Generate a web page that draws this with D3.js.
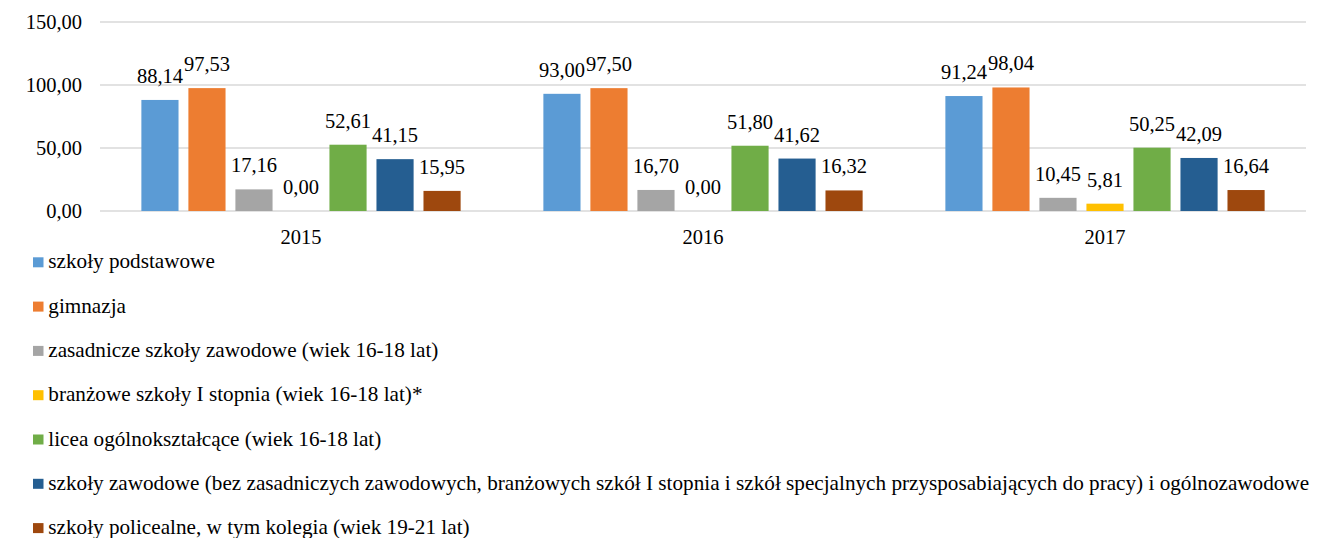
<!DOCTYPE html>
<html>
<head>
<meta charset="utf-8">
<script src="https://cdn.jsdelivr.net/npm/d3@7"></script>
<style>
  body { margin: 0; background: #fff; }
</style>
</head>
<body>
<script>
// data
const years = ["2015", "2016", "2017"]
const seriesNames = [
  "szkoły podstawowe",
  "gimnazja",
  "zasadnicze szkoły zawodowe (wiek 16-18 lat)",
  "branżowe szkoły I stopnia (wiek 16-18 lat)*",
  "licea ogólnokształcące (wiek 16-18 lat)",
  "szkoły zawodowe (bez zasadniczych zawodowych, branżowych szkół I stopnia i szkół specjalnych przysposabiających do pracy) i ogólnozawodowe",
  "szkoły policealne, w tym kolegia (wiek 19-21 lat)"
]
const seriesColors = ["#5b9bd5", "#ed7d31", "#a5a5a5", "#ffc000", "#70ad47", "#255e91", "#9e480e"]
const v2015 = [88.14, 97.53, 17.16, 0.00, 52.61, 41.15, 15.95]
const v2016 = [93.00, 97.50, 16.70, 0.00, 51.80, 41.62, 16.32]
const v2017 = [91.24, 98.04, 10.45, 5.81, 50.25, 42.09, 16.64]
const yTicks = [0, 50, 100, 150]

const valuesByYear = [v2015, v2016, v2017]

const svgWidth = 1319, svgHeight = 538
const margin = {top: 22, left: 100, right: 13}
const plotBottom = 211
const fontName = "Liberation Serif"

const fmt = function(v) { return d3.format(".2f")(v).replace(".", ",") }

const svg = d3.select("body").append("svg")
  .attr("width", svgWidth)
  .attr("height", svgHeight)

const x0 = d3.scaleBand()
  .domain(years)
  .range([margin.left, svgWidth - margin.right])

const x1 = d3.scaleBand()
  .domain(d3.range(seriesNames.length))
  .range([0, x0.bandwidth()])
  .paddingInner(0.21)
  .paddingOuter(0.88)

const y = d3.scaleLinear()
  .domain([0, 150])
  .range([plotBottom, margin.top])

// gridlines
svg.append("g")
  .selectAll("line")
  .data(yTicks)
  .enter().append("line")
    .attr("x1", margin.left)
    .attr("x2", svgWidth - margin.right)
    .attr("y1", function(d) { return y(d) })
    .attr("y2", function(d) { return y(d) })
    .attr("stroke", "#d9d9d9")
    .attr("stroke-width", 1.5)

// y axis labels
svg.append("g")
  .selectAll("text")
  .data(yTicks)
  .enter().append("text")
    .attr("x", 82)
    .attr("y", function(d) { return y(d) + 6.5 })
    .attr("text-anchor", "end")
    .attr("font-family", fontName)
    .attr("font-size", 20.5)
    .text(fmt)

// bars
const groups = svg.append("g")
  .selectAll("g")
  .data(years)
  .enter().append("g")
    .attr("transform", function(d) { return "translate(" + x0(d) + ",0)" })

groups.selectAll("rect")
  .data(function(d, i) { return valuesByYear[i] })
  .enter().append("rect")
    .attr("x", function(d, i) { return x1(i) })
    .attr("width", x1.bandwidth())
    .attr("y", function(d) { return y(d) })
    .attr("height", function(d) { return plotBottom - y(d) })
    .attr("fill", function(d, i) { return seriesColors[i] })

groups.selectAll("text.lbl")
  .data(function(d, i) { return valuesByYear[i] })
  .enter().append("text")
    .attr("class", "lbl")
    .attr("x", function(d, i) { return x1(i) + x1.bandwidth() / 2 })
    .attr("y", function(d) { return y(d) - 17 })
    .attr("text-anchor", "middle")
    .attr("font-family", fontName)
    .attr("font-size", 20.5)
    .text(fmt)

// x axis labels
svg.append("g")
  .selectAll("text")
  .data(years)
  .enter().append("text")
    .attr("x", function(d) { return x0(d) + x0.bandwidth() / 2 })
    .attr("y", 244)
    .attr("text-anchor", "middle")
    .attr("font-family", fontName)
    .attr("font-size", 20.5)
    .text(function(d) { return d })

// legend
const legend = svg.append("g")
  .selectAll("g")
  .data(seriesNames)
  .enter().append("g")
    .attr("transform", function(d, i) { return "translate(33," + (262.3 + i * 44.3) + ")" })

legend.append("rect")
  .attr("x", 0)
  .attr("y", -5)
  .attr("width", 10.5)
  .attr("height", 10)
  .attr("fill", function(d, i) { return seriesColors[i] })

legend.append("text")
  .attr("x", 15.3)
  .attr("y", 6)
  .attr("font-family", fontName)
  .attr("font-size", 21.2)
  .text(function(d) { return d })
</script>
</body>
</html>
